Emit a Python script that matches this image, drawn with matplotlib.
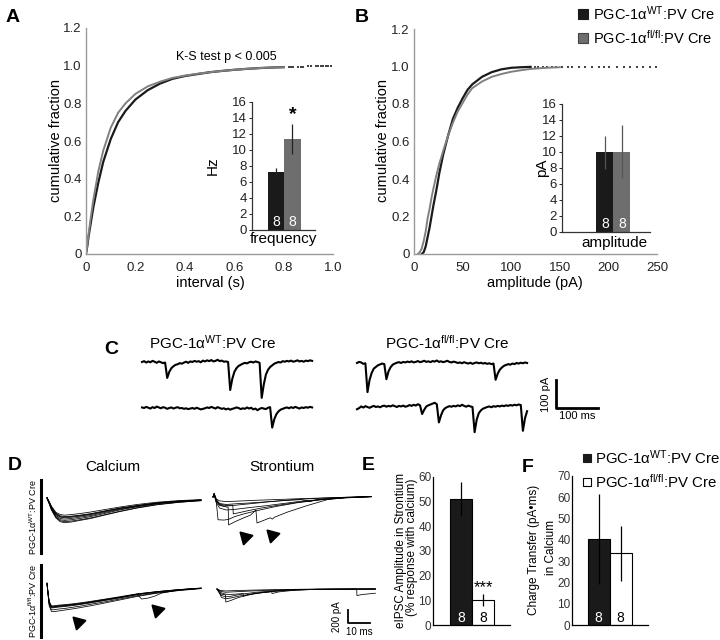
import matplotlib
matplotlib.use('Agg')
import matplotlib.pyplot as plt
import numpy as np
from matplotlib.lines import Line2D

# fonts
plt.rcParams['font.family'] = ['Liberation Sans', 'DejaVu Sans']
plt.rcParams['mathtext.fontset'] = 'custom'
plt.rcParams['mathtext.rm'] = 'Liberation Sans'
plt.rcParams['mathtext.it'] = 'Liberation Sans:italic'
plt.rcParams['mathtext.bf'] = 'Liberation Sans:bold'

WT_LABEL = 'PGC-1α$^{\\mathrm{WT}}$:PV Cre'
FL_LABEL = 'PGC-1α$^{\\mathrm{fl/fl}}$:PV Cre'

# ---------------- data ----------------
# A: cumulative interval distribution (s)
a_wt_x = [0, 0.005, 0.01, 0.02, 0.03, 0.05, 0.07, 0.1, 0.13, 0.16, 0.2, 0.25, 0.3,
          0.35, 0.4, 0.45, 0.5, 0.55, 0.6, 0.65, 0.7, 0.75, 0.8]
a_wt_y = [0, 0.04, 0.09, 0.17, 0.25, 0.38, 0.49, 0.61, 0.70, 0.76, 0.82, 0.87, 0.905,
          0.93, 0.945, 0.955, 0.965, 0.972, 0.978, 0.983, 0.987, 0.99, 0.992]
a_fl_x = [0, 0.005, 0.01, 0.02, 0.03, 0.05, 0.07, 0.1, 0.13, 0.16, 0.2, 0.25, 0.3,
          0.35, 0.4, 0.45, 0.5, 0.55, 0.6, 0.65, 0.7, 0.75, 0.8]
a_fl_y = [0, 0.05, 0.1, 0.2, 0.29, 0.44, 0.55, 0.67, 0.75, 0.80, 0.85, 0.89, 0.915,
          0.935, 0.947, 0.957, 0.965, 0.972, 0.978, 0.983, 0.987, 0.99, 0.992]
a_tail_x = [0.82, 0.83, 0.84, 0.86, 0.87, 0.88, 0.9, 0.91, 0.93, 0.94, 0.95, 0.96, 0.97, 0.98, 0.99]
a_tail_y = [0.993, 0.993, 0.994, 0.994, 0.995, 0.995, 0.996, 0.996, 0.997, 0.997, 0.998,
            0.998, 0.998, 0.999, 0.999]

# A inset: frequency (Hz)
freq_mean = [7.2, 11.4]
freq_err = [0.6, 1.9]

# B: cumulative amplitude distribution (pA)
b_wt_x = [8, 10, 12, 14, 16, 18, 20, 23, 26, 30, 35, 40, 45, 50, 55, 60, 70, 80, 90,
          100, 110, 120]
b_wt_y = [0, 0.01, 0.04, 0.09, 0.14, 0.2, 0.26, 0.34, 0.43, 0.53, 0.63, 0.72, 0.78,
          0.83, 0.875, 0.905, 0.945, 0.97, 0.985, 0.993, 0.996, 0.998]
b_fl_x = [4, 6, 8, 10, 12, 14, 16, 18, 20, 23, 26, 30, 35, 40, 45, 50, 55, 60, 70, 80,
          90, 100, 110, 120, 130, 140, 150]
b_fl_y = [0, 0.01, 0.03, 0.07, 0.12, 0.19, 0.24, 0.3, 0.35, 0.42, 0.48, 0.55, 0.63,
          0.7, 0.76, 0.805, 0.85, 0.885, 0.92, 0.945, 0.96, 0.972, 0.98, 0.987, 0.991,
          0.994, 0.996]
b_tail_x = [124, 128, 133, 137, 142, 146, 152, 158, 163, 170, 176, 183, 190, 195, 201,
            209, 216, 222, 229, 236, 243, 249]
b_tail_y = [0.998, 0.997, 0.998, 0.999, 0.998, 0.999, 0.999, 0.998, 0.999, 0.999,
            1.0, 0.999, 1.0, 1.0, 0.999, 1.0, 1.0, 1.0, 1.0, 1.0, 1.0, 1.0]

# B inset: amplitude (pA)
amp_mean = [9.95, 10.05]
amp_err = [2.1, 3.35]

# C: example sIPSC traces, 5 ms per sample, pA relative to baseline
c_dt = 5.0
c_wt_top = [0, 3, -2, 2, -1, 4, 1, -3, 2, -1, -4, -2,
            -57, -35, -22, -15, -10, -8, -4, -6, -2, 1, -3, 2, 0, 4, 1, 3, -1, 5, 2, 6,
            3, 7, 2, 4, 8, 3, 5, 1, 2, 0,
            -100, -60, -35, -22, -14, -10, -6, -3, -5, -1, 1, -2, 2, 0, -3,
            -128, -80, -45, -28, -18, -12, -6, -3, 0, -2, 3, 1, 4, 2, 5, 1, 3, 6, 2, 4,
            1, 5, 3, 6, 4]
c_wt_bot = [2, 0, 4, 1, -2, 3, 0, 5, 2, -1, 3, 1, -3, 0, 2, -2, 1, 3, -1, 0, -3,
            -1, -4, -2, 0, -3, 1, -2, -5, -3, -1, 2, 0, 4, 1, -2, 3, 0, -3, -1, -5,
            -2, -6, -3, -1, 2, 0, -4, -1, -3, 2, -2, 1, -5, -2, -8, -3, 0, -2, -4, 1, 3,
            -70, -40, -22, -12, -6, -3, 0, 2, -1, 3, 0, 4, 1, -2, 2, 0, 3, 1, 4, 2]
c_fl_top = [0, 4, 2, -3, -1,
            -104, -60, -35, -20, -14, -8, -5, -2, -4,
            -58, -30, -15, -6, -2, 1, 3, 0, 4, 2, 5, 3, 6, 2, 4, 7, 3, 5, 8, 4, 6, 3, 7,
            5, 9, 4, 6, 3, 5, 8, 4, 2, 5, 3, 0, 2, -1, 3, 0, -2, 1, -3, 0, 2, -1, 1, -2,
            0, -3, -1, -4, -2,
            -60, -38, -24, -16, -10, -7, -4, -6, -2, -4, 0, -2, 1, -1, 2, 0]
c_fl_bot = [-8, -4, 2, -2, 3, 0, -3, 1, 4, 0, 2,
            -1, 3, 5, 1, 4, 2, 6, 3, 0, 4, 2, 5, 1, 3, 7, 4, 8, 5, 10, 6,
            -25, -10, 2, 6, 9, 12, 15, 10,
            -55, -30, -12, -4, 0, 3, 1, 4, 2, 6, 3, 8, 4, 1, 5, 2, 0,
            -90, -45, -22, -12, -6, -3, 0, 2, -1, 3, 1, 4, 2, 5, 3, 6, 4, 7, 5, 8, 6, 9, 7,
            -85, -40, -15]

# D: evoked IPSCs (ms, pA relative to baseline)
ca_wt_t = [0, 1, 2, 4, 6, 8, 11, 15, 20, 26, 33, 41, 50, 60, 70]
ca_wt = [
    [-15, -90, -170, -280, -330, -340, -330, -310, -285, -240, -190, -145, -100, -70, -50],
    [-10, -80, -150, -250, -290, -300, -295, -280, -255, -215, -170, -130, -90, -62, -45],
    [-20, -100, -190, -310, -365, -380, -370, -350, -320, -275, -220, -165, -115, -80, -55],
    [-5, -70, -140, -235, -270, -280, -270, -255, -230, -195, -155, -115, -80, -55, -40],
    [-15, -95, -180, -295, -350, -360, -350, -330, -300, -255, -200, -150, -105, -72, -50],
    [-10, -85, -160, -265, -310, -320, -312, -295, -270, -228, -180, -138, -95, -66, -48],
    [-25, -105, -200, -320, -380, -395, -385, -360, -330, -280, -225, -170, -120, -82, -58],
    [-12, -75, -155, -255, -300, -310, -300, -285, -262, -220, -175, -135, -92, -64, -46],
]
ca_fl_t = [0, 0.5, 1, 2, 3, 5, 8, 12, 16, 20, 26, 33, 41, 50, 60, 70]
ca_fl = [
    [60, -100, -250, -320, -320, -310, -300, -285, -265, -245, -210, -170, -120, -80, -45, -20],
    [50, -120, -270, -350, -350, -340, -330, -310, -290, -265, -230, -185, -135, -90, -50, -22],
    [60, -90, -220, -290, -290, -280, -272, -258, -240, -220, -188, -150, -105, -70, -40, -15],
    [40, -130, -290, -375, -380, -370, -355, -335, -312, -288, -248, -200, -145, -95, -55, -25],
    [60, -110, -240, -305, -305, -295, -285, -270, -252, -232, -198, -160, -112, -75, -42, -18],
    [55, -95, -230, -300, -298, -290, -280, -265, -248, -228, -195, -158, -108, -72, -40, -18],
]
ca_fl_event_t = [0, 0.5, 1, 2, 3, 5, 8, 12, 16, 20, 26, 33, 41, 43, 46, 49, 52, 60, 70]
ca_fl_event = [50, -105, -250, -310, -312, -300, -292, -276, -258, -236, -202, -162,
               -115, -185, -170, -140, -95, -45, -20]

sr_wt = [
    ([0, 0.5, 1.5, 3, 5, 8, 12, 18, 25, 35, 45, 55, 72],
     [0, 40, -60, -120, -140, -135, -120, -100, -75, -45, -25, -10, 10]),
    ([0, 0.5, 1.5, 2.3, 5, 7, 10, 14, 20, 28, 38, 50, 60, 72],
     [0, 50, -80, -350, -355, -345, -300, -260, -210, -150, -90, -40, -15, 5]),
    ([0, 0.5, 1.5, 3, 6.9, 7.1, 10, 14, 17, 19.5, 20, 23, 26, 27, 28, 34, 43, 52, 60, 72],
     [0, 45, -70, -130, -160, -430, -380, -320, -280, -200, -400, -360, -320, -340, -310,
      -230, -130, -40, -10, 5]),
    ([0, 0.5, 1.5, 3, 6, 10, 15, 22, 30, 40, 44, 46, 50, 60, 72],
     [0, 55, -40, -100, -115, -105, -95, -80, -60, -40, -70, -50, -30, -10, 5]),
    ([0, 0.5, 1.5, 3, 6, 10, 16, 24, 32, 40, 50, 60, 72],
     [0, 35, -90, -170, -200, -190, -165, -135, -100, -65, -35, -12, 5]),
    ([0, 0.5, 1.5, 3, 6, 10, 20, 30, 40, 50, 60, 72],
     [0, 60, -30, -60, -70, -65, -50, -38, -25, -15, -5, 8]),
    ([0, 0.5, 1.5, 3, 6, 9, 9.2, 12, 16, 22, 30, 40, 50, 60, 72],
     [0, 40, -50, -110, -130, -125, -260, -240, -210, -170, -125, -75, -35, -10, 5]),
]
sr_fl = [
    ([0, 1, 2, 4, 6, 8, 12, 18, 25, 32, 45, 72],
     [0, -60, -100, -120, -115, -100, -75, -50, -30, -12, -3, 0]),
    ([0, 1, 2, 3.9, 4, 6, 9, 12, 16, 20, 26, 32, 45, 72],
     [0, -40, -80, -90, -200, -180, -140, -110, -80, -60, -35, -15, -5, 0]),
    ([0, 1, 2, 4, 6, 8, 11.9, 12, 14, 18, 24.9, 25, 28, 35, 45, 72],
     [0, -30, -60, -80, -85, -80, -70, -110, -90, -65, -40, -70, -45, -20, -5, 0]),
    ([0, 1, 2, 4, 7, 10, 16, 25, 35, 50, 63.5, 63.6, 66, 72],
     [0, -20, -40, -50, -45, -40, -30, -20, -10, -3, 0, -100, -85, -65]),
    ([0, 1, 2, 4, 6, 10, 15, 20, 30, 45, 72],
     [0, -50, -130, -150, -140, -110, -80, -55, -25, -5, 0]),
    ([0, 1, 2, 4, 8, 15, 25, 40, 72],
     [0, -15, -25, -30, -25, -18, -10, -3, 0]),
]

# E: eIPSC amplitude in strontium (% of calcium)
sr_mean = [51, 10]
sr_err = [7, 2.5]
# F: charge transfer in calcium (pA*ms)
q_mean = [40.3, 33.7]
q_err = [21.1, 13]
n_cells = ['8', '8']

BLACK = '#1a1a1a'
GRAY_BAR = '#6e6e6e'
GRAY_LINE = '#808080'

W, H = 720, 640
fig = plt.figure(figsize=(7.2, 6.4), dpi=100)


def px_axes(l, t, r, b):
    return fig.add_axes([l / W, 1 - b / H, (r - l) / W, (b - t) / H])


def fx(x):
    return x / W


def fy(y):
    return 1 - y / H


def ftext(x, y, s, **kw):
    kw.setdefault('ha', 'center')
    kw.setdefault('va', 'center')
    return fig.text(fx(x), fy(y), s, **kw)


def square(x, y, face, edge, ms):
    fig.add_artist(Line2D([fx(x)], [fy(y)], marker='s', ls='', ms=ms,
                          markerfacecolor=face, markeredgecolor=edge, mew=0.8,
                          transform=fig.transFigure))


def cdf_style(ax, xmax, xticks, xlabels):
    ax.set_xlim(0, xmax)
    ax.set_ylim(0, 1.2)
    for s in ['top', 'right']:
        ax.spines[s].set_visible(False)
    for s in ['left', 'bottom']:
        ax.spines[s].set_color('#9a9a9a')
        ax.spines[s].set_linewidth(1.0)
    ax.set_xticks(xticks)
    ax.set_xticklabels(xlabels)
    ax.set_yticks([0, 0.2, 0.4, 0.6, 0.8, 1.0, 1.2])
    ax.set_yticklabels(['0', '0.2', '0.4', '0.6', '0.8', '1.0', '1.2'])
    ax.tick_params(length=0, labelsize=9.5, labelcolor='#222222')
    ax.tick_params(axis='y', pad=3)
    ax.tick_params(axis='x', pad=6)
    ax.patch.set_alpha(0)


def inset_style(ax, xlim):
    ax.set_xlim(*xlim)
    ax.set_ylim(0, 16)
    ax.set_yticks(range(0, 17, 2))
    ax.set_xticks([])
    for s in ['top', 'right']:
        ax.spines[s].set_visible(False)
    for s in ['left', 'bottom']:
        ax.spines[s].set_color('#333333')
        ax.spines[s].set_linewidth(0.9)
    ax.tick_params(axis='y', length=2, width=0.6, labelsize=9.5, pad=1.5,
                   labelcolor='#222222')
    ax.patch.set_alpha(0)


# ---------------- A ----------------
axA = px_axes(86, 28, 333, 254)
axA.plot(a_wt_x, a_wt_y, color=BLACK, lw=1.6)
axA.plot(a_fl_x, a_fl_y, color=GRAY_LINE, lw=1.4)
axA.scatter(a_tail_x, a_tail_y, s=1.2, color='#444444', marker='s', lw=0)
cdf_style(axA, 1.0, [0, 0.2, 0.4, 0.6, 0.8, 1.0], ['0', '0.2', '0.4', '0.6', '0.8', '1.0'])
ftext(56, 141, 'cumulative fraction', rotation=90, fontsize=10.5)
ftext(210, 283, 'interval (s)', fontsize=10.5)
ftext(176, 57, 'K-S test p < 0.005', ha='left', fontsize=9)

axAi = px_axes(252, 102, 315, 230)
axAi.bar([0, 1], freq_mean, width=1.0, color=[BLACK, GRAY_BAR])
axAi.errorbar([0, 1], freq_mean, yerr=freq_err, fmt='none', ecolor='#222222',
              elinewidth=0.9, capsize=0)
inset_style(axAi, (-1.455, 2.364))
for i in range(2):
    axAi.text(i, 0.95, n_cells[i], color='white', ha='center', va='center', fontsize=10)
axAi.text(1, freq_mean[1] + freq_err[1] + 0.1, '*', ha='center', va='bottom',
          fontsize=14, fontweight='bold')
ftext(213, 166, 'Hz', rotation=90, fontsize=11)
ftext(283, 239, 'frequency', fontsize=11)

# ---------------- B ----------------
axB = px_axes(414, 29, 657, 254)
axB.plot(b_wt_x, b_wt_y, color=BLACK, lw=1.6)
axB.plot(b_fl_x, b_fl_y, color=GRAY_LINE, lw=1.4)
axB.scatter(b_tail_x, b_tail_y, s=1.2, color='#444444', marker='s', lw=0)
cdf_style(axB, 250, [0, 50, 100, 150, 200, 250], ['0', '50', '100', '150', '200', '250'])
ftext(383, 141, 'cumulative fraction', rotation=90, fontsize=10.5)
ftext(535, 283, 'amplitude (pA)', fontsize=10.5)

axBi = px_axes(562, 104, 650, 232)
axBi.bar([0, 1], amp_mean, width=1.0, color=[BLACK, GRAY_BAR])
axBi.errorbar([0, 1], amp_mean, yerr=amp_err, fmt='none', ecolor='#555555',
              elinewidth=0.9, capsize=0)
inset_style(axBi, (-2.53, 2.65))
for i in range(2):
    axBi.text(i, 0.95, n_cells[i], color='white', ha='center', va='center', fontsize=10)
ftext(542, 168, 'pA', rotation=90, fontsize=11)
ftext(614, 243, 'amplitude', fontsize=11)

square(583, 14, BLACK, BLACK, 7)
square(583, 38, GRAY_BAR, '#444444', 7)
ftext(593, 14, WT_LABEL, ha='left', fontsize=10.5)
ftext(593, 38, FL_LABEL, ha='left', fontsize=10.5)

# ---------------- C ----------------
# 100 ms = 42 px, 100 pA = 28 px
axC = px_axes(130, 345, 610, 440)
axC.set_xlim(0, 480 / 0.42)
axC.set_ylim(0, 95 / 0.28)
axC.axis('off')
c_traces = [(c_wt_top, (142 - 130) / 0.42, (440 - 362) / 0.28),
            (c_wt_bot, (142 - 130) / 0.42, (440 - 408) / 0.28),
            (c_fl_top, (357 - 130) / 0.42, (440 - 363) / 0.28),
            (c_fl_bot, (357 - 130) / 0.42, (440 - 407) / 0.28)]
for vals, x0, y0 in c_traces:
    t = x0 + np.arange(len(vals)) * c_dt
    axC.plot(t, y0 + np.array(vals), color='black', lw=1.5)
sb_x, sb_y = (556 - 130) / 0.42, (440 - 408) / 0.28
axC.plot([sb_x, sb_x, sb_x + 100], [sb_y + 100, sb_y, sb_y], color='black', lw=2)
axC.text(sb_x - 12, sb_y + 50, '100 pA', rotation=90, ha='right', va='center', fontsize=8)
axC.text(sb_x + 50, sb_y - 12, '100 ms', ha='center', va='top', fontsize=8)
ftext(213, 343, WT_LABEL, fontsize=11)
ftext(447, 343, FL_LABEL, fontsize=11)

# ---------------- D ----------------
# 10 ms = 22 px, 200 pA = 13 px
axD = px_axes(20, 475, 380, 640)
axD.set_xlim(0, 360 / 2.2)
axD.set_ylim(0, 165 / 0.065)
axD.axis('off')
ca_x0 = (47 - 20) / 2.2
sr_wt_x0 = (213 - 20) / 2.2
sr_fl_x0 = (217 - 20) / 2.2
wt_base = (640 - 497) / 0.065
fl_base = (640 - 587) / 0.065
sr_fl_base = (640 - 589) / 0.065
tr_kw = dict(color='black', lw=0.55)
for vals in ca_wt:
    axD.plot(ca_x0 + np.array(ca_wt_t), wt_base + np.array(vals), **tr_kw)
for vals in ca_fl:
    axD.plot(ca_x0 + np.array(ca_fl_t), fl_base + np.array(vals), **tr_kw)
axD.plot(ca_x0 + np.array(ca_fl_event_t), fl_base + np.array(ca_fl_event), **tr_kw)
for t, vals in sr_wt:
    axD.plot(sr_wt_x0 + np.array(t), wt_base + np.array(vals), **tr_kw)
for t, vals in sr_fl:
    axD.plot(sr_fl_x0 + np.array(t), sr_fl_base + np.array(vals), **tr_kw)
# arrowheads marking asynchronous events
arrow_kw = dict(marker=(3, 0, 45), ms=11, color='black', ls='')
axD.plot([sr_wt_x0 + 14.5, sr_wt_x0 + 26.8], [wt_base - 615, wt_base - 585], **arrow_kw)
axD.plot([ca_x0 + 14.1, ca_x0 + 50], [fl_base - 538, fl_base - 354], **arrow_kw)
# row bars and labels
bx = (41 - 20) / 2.2
axD.plot([bx, bx], [(640 - 480) / 0.065, (640 - 553) / 0.065], color='black', lw=2.2)
axD.plot([bx, bx], [(640 - 565) / 0.065, (640 - 637) / 0.065], color='black', lw=2.2)
ftext(33, 517, WT_LABEL, rotation=90, fontsize=6.5)
ftext(33, 601, FL_LABEL, rotation=90, fontsize=6.5)
# scale bar
dx, dy = (348 - 20) / 2.2, (640 - 623) / 0.065
axD.plot([dx, dx, dx + 10], [dy + 200, dy, dy], color='black', lw=1.3)
axD.text(dx - 2.5, dy + 100, '200 pA', rotation=90, ha='right', va='center', fontsize=7)
axD.text(dx + 5, dy - 60, '10 ms', ha='center', va='top', fontsize=7)
ftext(113, 467, 'Calcium', fontsize=11)
ftext(282, 467, 'Strontium', fontsize=11)


# ---------------- E / F ----------------
def bar_panel(ax, vals, errs, ymax, step, xlim, n_y):
    ax.bar([0, 1], vals, width=1.0, color=[BLACK, 'white'], edgecolor='black', lw=0.8)
    ax.errorbar([0, 1], vals, yerr=errs, fmt='none', ecolor='black', elinewidth=0.9,
                capsize=0)
    ax.set_xlim(*xlim)
    ax.set_ylim(0, ymax)
    ax.set_yticks(range(0, ymax + 1, step))
    ax.set_xticks([])
    for s in ['top', 'right']:
        ax.spines[s].set_visible(False)
    for s in ['left', 'bottom']:
        ax.spines[s].set_linewidth(0.9)
    ax.tick_params(axis='y', length=0, labelsize=8.5, pad=1,
                   labelcolor='#333333')
    ax.text(0, n_y, n_cells[0], color='white', ha='center', va='center', fontsize=10)
    ax.text(1, n_y, n_cells[1], color='black', ha='center', va='center', fontsize=10)
    ax.patch.set_alpha(0)


axE = px_axes(433, 476.7, 510, 625)
bar_panel(axE, sr_mean, sr_err, 60, 10, (-1.273, 2.227), 2.8)
axE.text(1, 15.1, '***', ha='center', va='center', fontsize=12)
ftext(401, 550, 'eIPSC Amplitude in Strontium', rotation=90, fontsize=8.5)
ftext(412, 547, '(% response with calcium)', rotation=90, fontsize=8.5)

axF = px_axes(572, 476, 648, 625)
bar_panel(axF, q_mean, q_err, 70, 10, (-1.205, 2.25), 3.3)
ftext(534, 550, 'Charge Transfer (pA•ms)', rotation=90, fontsize=8.5)
ftext(551, 547, 'in Calcium', rotation=90, fontsize=8.5)
square(587, 458, BLACK, BLACK, 6)
square(587, 482, 'white', 'black', 6)
ftext(595, 458, WT_LABEL, ha='left', fontsize=10.8)
ftext(595, 482, FL_LABEL, ha='left', fontsize=10.8)

# panel letters
for letter, x, y in [('A', 13, 17), ('B', 362, 17), ('C', 111, 350),
                     ('D', 15, 466), ('E', 368, 465), ('F', 528, 467)]:
    ftext(x, y, letter, fontsize=14, fontweight='bold')

fig.savefig('out.png', dpi=100)
